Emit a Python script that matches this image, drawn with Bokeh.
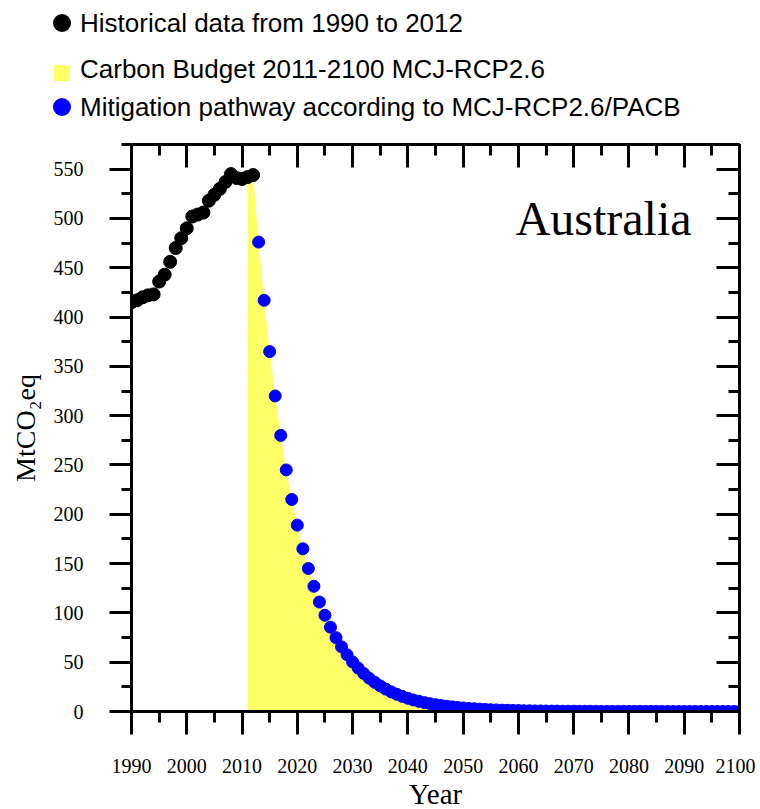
from bokeh.plotting import figure
from bokeh.layouts import column
from bokeh.models import LinearAxis, SingleIntervalTicker, Range1d, Label, Div
from bokeh.embed import file_html
from bokeh.resources import INLINE

# ---------------- data ----------------
hist_years = list(range(1990, 2013))
hist_values = [415, 417, 420, 422, 423, 436, 443, 456, 470, 480, 490, 502,
               504, 506, 518, 524, 530, 537, 545, 541, 540, 542, 544]

path_years = list(range(2013, 2101))
path_values = [476, 417, 365, 320, 280, 245, 215, 189, 165, 145,
               127, 111, 97.6, 85.5, 74.9, 65.6, 57.5, 50.3, 44.1, 38.6,
               33.8, 29.6, 26.0, 22.7, 19.9, 17.5, 15.3, 13.4, 11.7, 10.3,
               9.0, 7.9, 6.9, 6.1, 5.3, 4.7, 4.1, 3.6, 3.1, 2.8,
               2.4, 2.1, 1.8, 1.6, 1.4, 1.2, 1.1, 1.0, 0.8, 0.7,
               0.6, 0.6, 0.5, 0.4, 0.4, 0.3, 0.3, 0.3, 0.2, 0.2,
               0.2, 0.2, 0.1, 0.1, 0.1, 0.1, 0.1, 0.1, 0.1, 0.1,
               0.1, 0.1, 0.1, 0.0, 0.0, 0.0, 0.0, 0.0, 0.0, 0.0,
               0.0, 0.0, 0.0, 0.0, 0.0, 0.0, 0.0, 0.0]

budget_start_years = [2011, 2012]
budget_start_values = [542, 544]

legend_labels = ["Historical data from 1990 to 2012",
                 "Carbon Budget 2011-2100 MCJ-RCP2.6",
                 "Mitigation pathway according to MCJ-RCP2.6/PACB"]
country = "Australia"

budget_years = budget_start_years + path_years
budget_values = budget_start_values + path_values

SERIF = "Liberation Serif"
SANS = "Liberation Sans"
YELLOW = "#FFFF66"
BLUE = "#0000FF"

# ---------------- main figure ----------------
p = figure(frame_width=608, frame_height=567,
           x_range=Range1d(1990, 2100), y_range=Range1d(0, 575),
           output_backend="svg", toolbar_location=None,
           min_border_left=131, min_border_top=4, min_border_right=16,
           min_border_bottom=10,
           background_fill_color="white", border_fill_color="white")
p.outline_line_color = None
p.xgrid.visible = False
p.ygrid.visible = False

xt = SingleIntervalTicker(interval=10, num_minor_ticks=2)
yt = SingleIntervalTicker(interval=50, num_minor_ticks=2)

xa = p.xaxis[0]
ya = p.yaxis[0]
xa.ticker = xt
ya.ticker = yt
xa.axis_label = "Year"
ya.axis_label = "MtCO₂eq"
for ax in (xa, ya):
    ax.axis_line_width = 3
    ax.major_tick_line_width = 3
    ax.minor_tick_line_width = 3
    ax.major_tick_in = 0
    ax.minor_tick_in = 0
    ax.major_label_text_font = SERIF
    ax.major_label_text_font_size = "20px"
    ax.major_label_text_color = "black"
    ax.axis_label_text_font = SERIF
    ax.axis_label_text_font_style = "normal"
    ax.axis_label_text_color = "black"
xa.major_tick_out = 23
xa.minor_tick_out = 11
xa.major_label_standoff = 24
xa.axis_label_text_font_size = "29px"
xa.axis_label_standoff = 2

ya.major_tick_out = 22
ya.minor_tick_out = 10
ya.major_label_standoff = 26
ya.axis_label_text_font_size = "28px"
ya.axis_label_standoff = 10

# top and right axes: inward ticks only, labels not drawn
for side, tk in (("above", xt), ("right", yt)):
    ax = LinearAxis(ticker=tk, major_tick_in=23, major_tick_out=0,
                    minor_tick_in=11, minor_tick_out=0,
                    major_label_text_font_size="0px",
                    major_label_text_alpha=0, major_label_standoff=0,
                    axis_line_width=3, major_tick_line_width=3,
                    minor_tick_line_width=3)
    p.add_layout(ax, side)

p.varea(x=budget_years, y1=[0] * len(budget_years), y2=budget_values,
        fill_color=YELLOW, fill_alpha=1)
p.scatter(hist_years, hist_values, size=13, marker="circle",
          fill_color="black", line_color="black")
p.scatter(path_years, path_values, size=12, marker="circle",
          fill_color=BLUE, line_color=BLUE)

p.add_layout(Label(x=2059.5, y=500, text=country, text_font=SERIF,
                   text_font_size="48px", text_baseline="middle",
                   text_color="black"))

# ---------------- legend (above the chart) ----------------
legend_colors = ["black", YELLOW, BLUE]
legend_shapes = ["50%", "0", "50%"]      # circle, square, circle
legend_marker_px = [18, 16, 18]
legend_row_tops = [2, 48, 86]             # row layout, px
legend_marker_dy = [0, 4, 0]

rows = []
for lab, col, rad, sz, top, dy in zip(legend_labels, legend_colors,
                                      legend_shapes, legend_marker_px,
                                      legend_row_tops, legend_marker_dy):
    left = 62 - sz / 2
    rows.append(
        f'<div style="position:absolute;left:0;top:{top}px;height:42px;'
        f'width:755px;">'
        f'<span style="position:absolute;left:{left}px;top:{21 - sz / 2 + dy}px;'
        f'width:{sz}px;height:{sz}px;border-radius:{rad};background:{col};">'
        f'</span>'
        f'<span style="position:absolute;left:80px;top:0;line-height:42px;'
        f'white-space:nowrap;">{lab}</span></div>')

html = (f'<div style="position:relative;width:755px;height:140px;'
        f"font-family:'{SANS}';font-size:26px;color:black;\">"
        + "".join(rows) + "</div>")
leg = Div(text=html, width=755, height=140, margin=0)

layout = column(leg, p, spacing=0)
open("out.html", "w").write(file_html(layout, INLINE))
